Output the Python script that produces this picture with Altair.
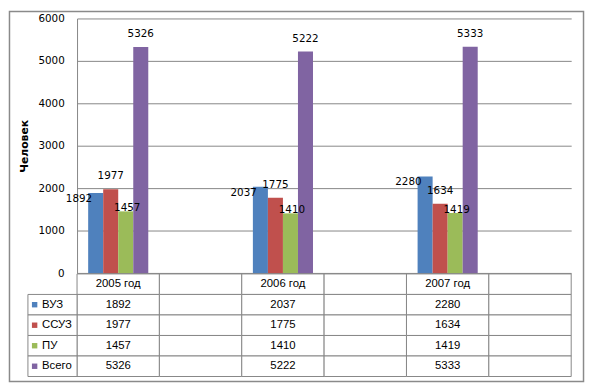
import altair as alt
import pandas as pd

# ---- data ----
years = ["2005 год", "2006 год", "2007 год"]
series = ["ВУЗ", "ССУЗ", "ПУ", "Всего"]
vuz = [1892, 2037, 2280]
ssuz = [1977, 1775, 1634]
pu = [1457, 1410, 1419]
total = [5326, 5222, 5333]
colors = ["#4F81BD", "#C0504D", "#9BBB59", "#8064A2"]
y_ticks = [0, 1000, 2000, 3000, 4000, 5000, 6000]

# column layout: each year followed by an empty column (as in the source)
cols = []
for i, yr in enumerate(years):
    cols += [yr, "_blank%d" % i]
rows = ["header"] + series

values = {"ВУЗ": vuz, "ССУЗ": ssuz, "ПУ": pu, "Всего": total}
recs = []
for s in series:
    for i, yr in enumerate(years):
        recs.append({"cat": yr, "series": s, "value": values[s][i]})
df = pd.DataFrame(recs)

GRID = "#868686"
LABEL_FONT = "DejaVu Sans"
TABLE_FONT = "Liberation Sans"

W, H = 501, 258.3

xscale = alt.Scale(domain=cols, paddingInner=0, paddingOuter=0)
xoff = alt.XOffset("series:N", scale=alt.Scale(domain=series, paddingInner=0, paddingOuter=0.74))
cscale = alt.Scale(domain=series, range=colors)

base = alt.Chart(df)

border = alt.Chart(pd.DataFrame({"a": [0]})).mark_rect(
    fill="transparent", stroke="#8a8a8a", strokeWidth=1.5
).encode(
    x=alt.value(-68.5), x2=alt.value(513.5), y=alt.value(-7), y2=alt.value(368)
)

bars = base.mark_bar().encode(
    x=alt.X("cat:N", scale=xscale, axis=None),
    xOffset=xoff,
    y=alt.Y(
        "value:Q",
        scale=alt.Scale(domain=[0, 6000], nice=False),
        axis=alt.Axis(
            values=y_ticks,
            format="d",
            title="Человек",
            titleFont=LABEL_FONT,
            titleFontSize=11,
            titleFontWeight="bold",
            titleColor="black",
            titlePadding=9,
            labelFont=LABEL_FONT,
            labelFontSize=10.5,
            labelColor="black",
            labelPadding=13,
            ticks=False,
            domainColor=GRID,
            gridColor=GRID,
            gridOpacity=1,
        ),
    ),
    color=alt.Color("series:N", scale=cscale, legend=None),
)

# label placement per series (mimicking the original's data labels)
label_style = {
    "ВУЗ": dict(align="right", dx=-3.6, dy=6),
    "ССУЗ": dict(align="center", dx=0, dy=-13),
    "ПУ": dict(align="center", dx=1.5, dy=-3),
    "Всего": dict(align="center", dx=0, dy=-13),
}
label_layers = []
for s in series:
    st = label_style[s]
    lbl = base.transform_filter(alt.datum.series == s).mark_text(
        font=LABEL_FONT, fontSize=10.5, color="black", baseline="middle",
        align=st["align"], dx=st["dx"], dy=st["dy"],
    ).encode(
        x=alt.X("cat:N", scale=xscale, axis=None),
        xOffset=xoff,
        y=alt.Y("value:Q"),
        text=alt.Text("value:Q"),
    )
    label_layers.append(lbl)

top = alt.layer(border, bars, *label_layers).properties(width=W, height=H)

# ---- data table ----
cells = pd.DataFrame([{"col": c, "row": r} for r in rows for c in cols])
trecs = []
for i, yr in enumerate(years):
    trecs.append({"col": yr, "row": "header", "txt": yr})
    for s in series:
        trecs.append({"col": yr, "row": s, "txt": str(values[s][i])})
tdf = pd.DataFrame(trecs)
legdf = pd.DataFrame({"row": series, "series": series})

rscale = alt.Scale(domain=rows, paddingInner=0, paddingOuter=0)
tx = alt.X("col:N", scale=xscale, axis=None)
ty = alt.Y("row:N", scale=rscale, axis=None)

grid = alt.Chart(cells).mark_rect(fill="white", stroke=GRID, strokeWidth=1).encode(x=tx, y=ty)
ttext = alt.Chart(tdf).mark_text(font=TABLE_FONT, fontSize=11.5, color="black", baseline="middle").encode(
    x=tx, y=ty, text="txt:N"
)
legcell = alt.Chart(legdf).mark_rect(fill="white", stroke=GRID, strokeWidth=1).encode(
    x=alt.value(-49.8), x2=alt.value(0), y=ty
)
legsq = alt.Chart(legdf).mark_square(size=30, opacity=1).encode(
    x=alt.value(-43), y=ty,
    color=alt.Color("series:N", scale=cscale, legend=None),
)
legtxt = alt.Chart(legdf).mark_text(font=TABLE_FONT, fontSize=11.5, color="black", align="left", baseline="middle").encode(
    x=alt.value(-35.5), y=ty,
    text="row:N",
)

table = alt.layer(grid, legcell, ttext, legsq, legtxt).properties(width=W, height=104)

chart = alt.vconcat(top, table, spacing=0, bounds="flush").properties(
    padding=0, background="white"
).configure_view(stroke=None)

chart.save("out.html", embed_options={"renderer": "svg", "actions": False})
